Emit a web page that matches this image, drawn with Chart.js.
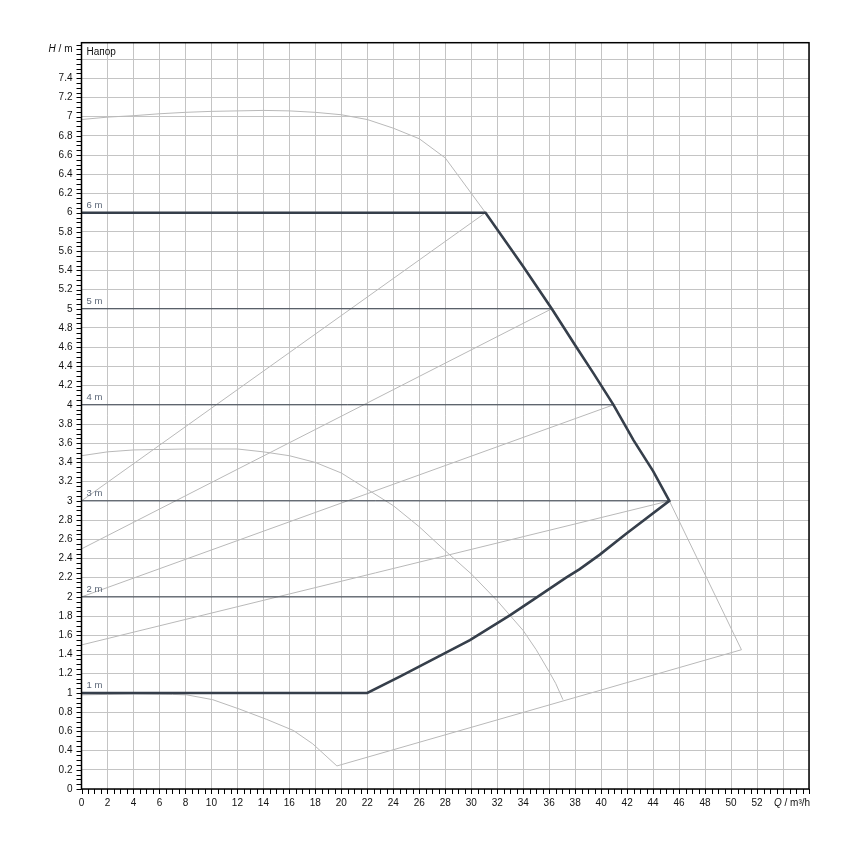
<!DOCTYPE html>
<html>
<head>
<meta charset="utf-8">
<script src="https://cdn.jsdelivr.net/npm/chart.js@4.4.1/dist/chart.umd.min.js"></script>
<style>
  html, body { margin: 0; padding: 0; background: #fff; }
  #wrap { width: 850px; height: 850px; }
</style>
</head>
<body>
<div id="wrap"><canvas id="c" width="850" height="850"></canvas></div>
<script>
// ---------- DATA ----------
const xTickLabels = ['0','2','4','6','8','10','12','14','16','18','20','22','24','26','28','30','32','34','36','38','40','42','44','46','48','50','52'];
const yTickLabels = ['0','0.2','0.4','0.6','0.8','1','1.2','1.4','1.6','1.8','2','2.2','2.4','2.6','2.8','3','3.2','3.4','3.6','3.8','4','4.2','4.4','4.6','4.8','5','5.2','5.4','5.6','5.8','6','6.2','6.4','6.6','6.8','7','7.2','7.4'];

// max speed curve (grey)
const maxCurveQ = [0, 2, 4, 6, 8, 10, 12, 14, 16, 18, 20, 22, 24, 26, 28, 31.1];
const maxCurveH = [6.97, 6.995, 7.01, 7.03, 7.045, 7.055, 7.06, 7.065, 7.06, 7.045, 7.02, 6.97, 6.88, 6.77, 6.57, 6.0];
// right limit + bottom limit (grey)
const limitQ = [45.25, 50.8, 19.66];
const limitH = [3.0, 1.45, 0.24];
// min speed curve (grey)
const minCurveQ = [19.66, 17.8, 16.3, 14.25, 12.2, 10.1, 8.1, 7, 4, 0];
const minCurveH = [0.24, 0.47, 0.61, 0.725, 0.83, 0.93, 0.98, 0.985, 0.99, 0.98];
// intermediate speed curve (grey)
const midCurveQ = [0, 2, 4, 8, 12, 14, 16, 18, 20, 22, 24, 26, 28, 30, 32, 34, 35, 36, 36.5, 37.06];
const midCurveH = [3.47, 3.51, 3.53, 3.54, 3.54, 3.51, 3.47, 3.40, 3.29, 3.12, 2.95, 2.73, 2.48, 2.24, 1.96, 1.65, 1.45, 1.22, 1.1, 0.93];
// proportional pressure lines (grey)
const propLine1Q = [0, 31.1];  const propLine1H = [3.0, 6.0];
const propLine2Q = [0, 36.2];  const propLine2H = [2.5, 5.0];
const propLine3Q = [0, 40.95]; const propLine3H = [2.0, 4.0];
const propLine4Q = [0, 45.25]; const propLine4H = [1.5, 3.0];
// operating field boundary (dark, thick)
const fieldQ = [0, 31.1, 34, 36.2, 38, 39.4, 40.95, 42.5, 44, 45.25, 41.9, 39.9, 38.35, 37.3, 35.1, 33, 29.9, 24.5, 22, 0];
const fieldH = [6, 6, 5.44, 5.0, 4.62, 4.33, 4.0, 3.63, 3.31, 3.0, 2.655, 2.44, 2.29, 2.2, 2.0, 1.81, 1.55, 1.17, 1.0, 1.0];
// constant pressure lines (dark, thin)
const constLevels = [5, 4, 3, 2];
const constEndQ = [36.2, 40.95, 45.25, 35.1];
// level labels
const levelLabelH = [1, 2, 3, 4, 5, 6];
const levelLabels = ['1 m', '2 m', '3 m', '4 m', '5 m', '6 m'];

const yAxisTitle = ['H', ' / m'];
const xAxisTitle = ['Q', ' / m³/h'];
const curveTitle = 'Напор';

// ---------- CHART ----------
const pts = (q, h) => q.map((v, i) => ({ x: v, y: h[i] }));
const GREY = '#b9b9b9';
const DARK = '#363f4b';
const FONT = '"Liberation Sans", Arial, sans-serif';

const greyDs = (q, h) => ({ data: pts(q, h), borderColor: GREY, borderWidth: 1, showLine: true, pointRadius: 0, fill: false, order: 2 });
const datasets = [
  greyDs(maxCurveQ, maxCurveH),
  greyDs(limitQ, limitH),
  greyDs(minCurveQ, minCurveH),
  greyDs(midCurveQ, midCurveH),
  greyDs(propLine1Q, propLine1H),
  greyDs(propLine2Q, propLine2H),
  greyDs(propLine3Q, propLine3H),
  greyDs(propLine4Q, propLine4H),
];
constLevels.forEach((lv, i) => {
  datasets.push({ data: pts([0, constEndQ[i]], [lv, lv]), borderColor: DARK, borderWidth: 1, showLine: true, pointRadius: 0, fill: false, order: 1 });
});
datasets.push({ data: pts(fieldQ, fieldH), borderColor: DARK, borderWidth: 2.6, showLine: true, pointRadius: 0, fill: false, order: 0, borderJoinStyle: 'miter' });

function drawParts(ctx, parts, x, y, size, align) {
  const fonts = parts.map((p, i) => (i === 0 ? 'italic ' : '') + size + 'px ' + FONT);
  const widths = parts.map((p, i) => { ctx.font = fonts[i]; return ctx.measureText(p).width; });
  const total = widths.reduce((a, b) => a + b, 0);
  let cx = align === 'right' ? x - total : x;
  parts.forEach((p, i) => { ctx.font = fonts[i]; ctx.fillText(p, cx, y); cx += widths[i]; });
}

const overlay = {
  id: 'overlay',
  afterDraw(chart) {
    const { ctx, chartArea: a, scales: { x, y } } = chart;
    ctx.save();
    // minor ticks
    ctx.strokeStyle = '#000';
    ctx.lineWidth = 1;
    ctx.beginPath();
    for (let i = 0; i <= 112; i++) {
      const px = Math.round(x.getPixelForValue(i * 0.5)) + 0.5;
      ctx.moveTo(px, a.bottom); ctx.lineTo(px, a.bottom + 5);
    }
    for (let i = 0; i <= 155; i++) {
      const py = Math.round(y.getPixelForValue(i * 0.05)) + 0.5;
      ctx.moveTo(a.left - 5, py); ctx.lineTo(a.left, py);
    }
    ctx.stroke();
    // border
    ctx.lineWidth = 1.5;
    ctx.strokeRect(a.left, a.top, a.right - a.left, a.bottom - a.top);
    // texts
    ctx.fillStyle = '#111';
    ctx.textBaseline = 'middle';
    drawParts(ctx, yAxisTitle, a.left - 9, 49.5, 10, 'right');
    drawParts(ctx, xAxisTitle, 774, 803.5, 10, 'left');
    ctx.font = '10px ' + FONT;
    ctx.textAlign = 'left';
    ctx.fillText(curveTitle, a.left + 5, 52);
    ctx.fillStyle = '#5b6677';
    ctx.font = '9.5px ' + FONT;
    levelLabelH.forEach((h, i) => {
      ctx.fillText(levelLabels[i], a.left + 5, y.getPixelForValue(h) - 7.5);
    });
    ctx.restore();
  }
};

new Chart(document.getElementById('c'), {
  type: 'scatter',
  data: { datasets },
  plugins: [overlay],
  options: {
    responsive: false,
    animation: false,
    devicePixelRatio: 1,
    layout: { padding: { top: 42.7, right: 41, left: 0, bottom: 0 } },
    plugins: { legend: { display: false }, tooltip: { enabled: false } },
    elements: { line: { tension: 0 } },
    scales: {
      x: {
        type: 'linear', min: 0, max: 56,
        afterBuildTicks: s => { s.ticks = Array.from({ length: 29 }, (_, i) => ({ value: i * 2 })); },
        afterFit: s => { s.height = 61; },
        grid: { color: '#c4c4c4', lineWidth: 1, drawTicks: false },
        border: { display: false },
        ticks: {
          padding: 8, autoSkip: false, maxRotation: 0,
          font: { family: FONT, size: 10 }, color: '#111',
          callback: (v, i) => xTickLabels[i] !== undefined ? xTickLabels[i] : ''
        }
      },
      y: {
        type: 'linear', min: 0, max: 7.77,
        afterBuildTicks: s => { s.ticks = Array.from({ length: 39 }, (_, i) => ({ value: +(i * 0.2).toFixed(1) })); },
        afterFit: s => { s.width = 81.5; },
        grid: { color: '#c4c4c4', lineWidth: 1, drawTicks: false },
        border: { display: false },
        ticks: {
          padding: 9, autoSkip: false,
          font: { family: FONT, size: 10 }, color: '#111',
          callback: (v, i) => yTickLabels[i] !== undefined ? yTickLabels[i] : ''
        }
      }
    }
  }
});
</script>
</body>
</html>
